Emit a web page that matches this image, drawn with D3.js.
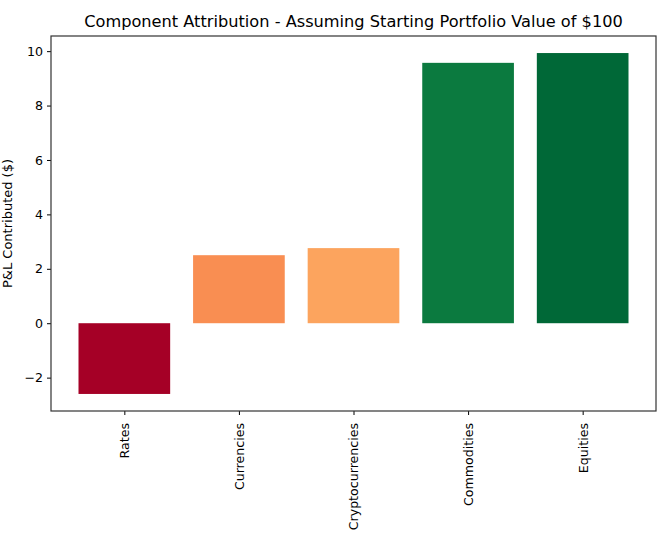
<!DOCTYPE html>
<html><head><meta charset="utf-8">
<script src="https://cdn.jsdelivr.net/npm/d3@7"></script>
<style>body{margin:0;background:#fff;} text{font-family:"DejaVu Sans",sans-serif;fill:#000;}</style>
</head><body>
<svg id="c" width="664" height="549"></svg>
<script>
const categories = ["Rates","Currencies","Cryptocurrencies","Commodities","Equities"];
const values = [-2.6, 2.5, 2.76, 9.57, 9.93];
const colors = ["#a50026","#f98e52","#fca45e","#0b7a3f","#006837"];
const yTicks = [-2,0,2,4,6,8,10];

const svg = d3.select("#c");
const L=51, R=656, T=36, B=411;
const n = categories.length;
const x = d3.scaleLinear().domain([-0.64, n-1+0.64]).range([L,R]);
const ymin = d3.min(values), ymax = d3.max(values), pad=(ymax-ymin)*0.05;
const y = d3.scaleLinear().domain([ymin-pad, ymax+pad]).range([B,T]);

svg.selectAll("rect.bar").data(values).enter().append("rect")
  .attr("class","bar")
  .attr("x",(d,i)=>x(i-0.4)).attr("width",(d,i)=>x(i+0.4)-x(i-0.4))
  .attr("y",d=>y(Math.max(0,d))).attr("height",d=>Math.abs(y(d)-y(0)))
  .attr("fill",(d,i)=>colors[i]);

const yAxis = d3.axisLeft(y).tickValues(yTicks).tickSize(4).tickPadding(4).tickFormat(d=>d<0?"\u2212"+Math.abs(d):d);
const gy = svg.append("g").attr("transform",`translate(${L},0)`).call(yAxis);
gy.select(".domain").remove();
gy.selectAll("text").style("font-size","12.6px");

const xAxis = d3.axisBottom(x).tickValues(d3.range(n)).tickSize(4).tickPadding(0).tickFormat(i=>categories[i]);
const gx = svg.append("g").attr("transform",`translate(0,${B})`).call(xAxis);
gx.select(".domain").remove();
gx.selectAll("text").style("font-size","12.6px")
  .attr("transform","rotate(-90)").attr("text-anchor","end")
  .attr("x",-12).attr("y",0).attr("dy","0.35em");

svg.append("rect").attr("x",L).attr("y",T).attr("width",R-L).attr("height",B-T)
  .attr("fill","none").attr("stroke","#333").attr("stroke-width",1.2);

svg.append("text").attr("x",(L+R)/2).attr("y",27).attr("text-anchor","middle")
  .style("font-size","16.2px").text("Component Attribution - Assuming Starting Portfolio Value of $100");

svg.append("text").attr("transform",`translate(12,${(T+B)/2}) rotate(-90)`)
  .attr("text-anchor","middle").style("font-size","13px").text("P&L Contributed ($)");
</script>
</body></html>
